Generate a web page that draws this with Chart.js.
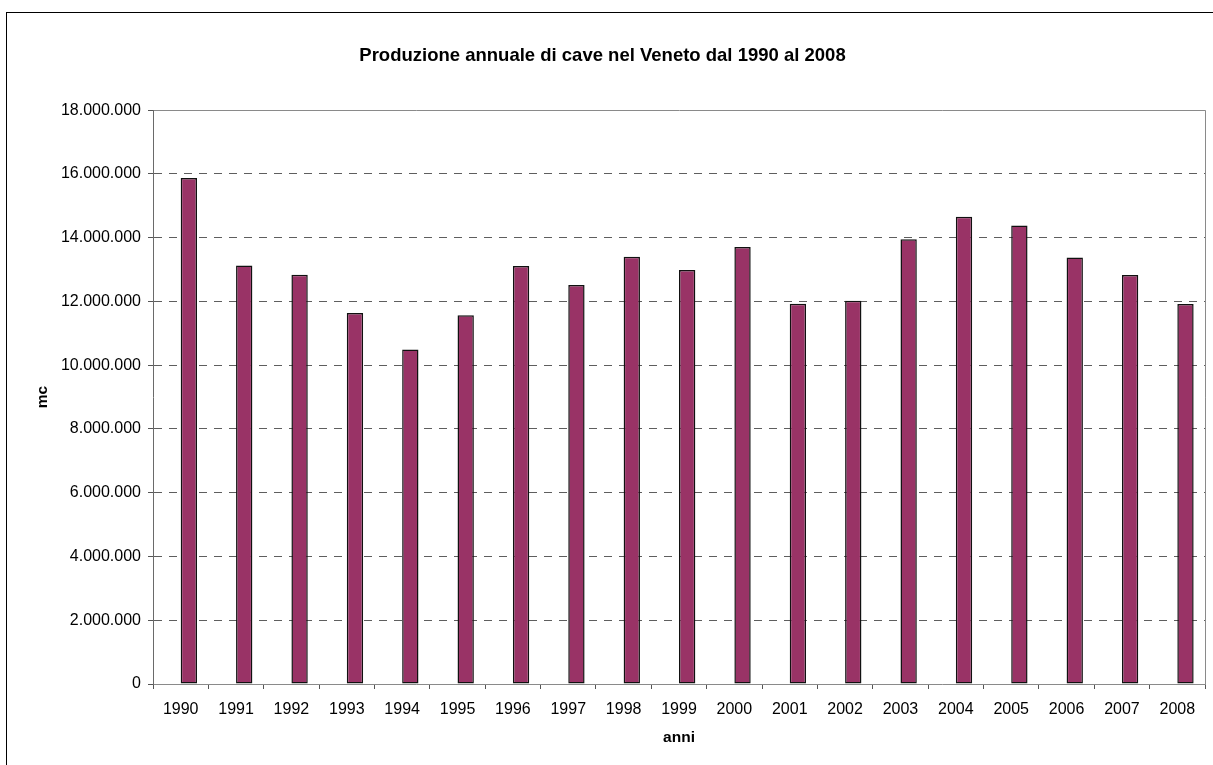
<!DOCTYPE html>
<html>
<head>
<meta charset="utf-8">
<title>Produzione annuale di cave nel Veneto</title>
<script src="https://cdn.jsdelivr.net/npm/chart.js@4/dist/chart.umd.min.js"></script>
<style>
    html, body { margin: 0; padding: 0; background: #fff; overflow: hidden; }
    #frame {
        position: absolute; left: 6px; top: 12px;
        width: 1300px; height: 800px;
        border: 1px solid #000;
    }
    #wrap { position: absolute; left: 0; top: 0; width: 1213px; height: 765px; }
</style>
</head>
<body>
<div id="frame"></div>
<div id="wrap"><canvas id="cave" width="1213" height="765"></canvas></div>
<script>
    // Anni e produzione (mc)
    const anni = ['1990', '1991', '1992', '1993', '1994', '1995', '1996', '1997', '1998', '1999',
                  '2000', '2001', '2002', '2003', '2004', '2005', '2006', '2007', '2008'];
    const produzione = [15870000, 13130000, 12840000, 11640000, 10490000, 11570000, 13110000,
                        12520000, 13400000, 12990000, 13710000, 11930000, 12020000, 13950000,
                        14660000, 14380000, 13380000, 12830000, 11920000];
    // serie vuota: in Excel le barre stanno nella seconda posizione del gruppo
    const serieVuota = anni.map(() => null);
    const yMin = 0, yMax = 18000000, yStep = 2000000;

    const FONT = "'Liberation Sans', Arial, sans-serif";

    // formato italiano con il punto come separatore delle migliaia
    function formatIt(v) {
        return String(Math.round(v)).replace(/\B(?=(\d{3})+(?!\d))/g, '.');
    }

    const ctx = document.getElementById('cave').getContext('2d');
    const chart = new Chart(ctx, {
        type: 'bar',
        data: {
            labels: anni,
            datasets: [
                { label: '', data: serieVuota },
                {
                    label: 'mc',
                    data: produzione,
                    backgroundColor: '#993366',
                    borderColor: '#111111',
                    borderWidth: 1.5,
                    borderSkipped: false
                }
            ]
        },
        options: {
            responsive: false,
            animation: false,
            layout: { padding: { left: 0, right: 8, top: 0, bottom: 0 } },
            categoryPercentage: 0.59,
            barPercentage: 1,
            plugins: {
                legend: { display: false },
                tooltip: { enabled: false },
                title: {
                    display: true,
                    text: 'Produzione annuale di cave nel Veneto dal 1990 al 2008',
                    color: '#000',
                    font: { family: FONT, size: 18.5, weight: 'bold' },
                    padding: { top: 45, bottom: 43 }
                }
            },
            scales: {
                x: {
                    afterFit: (scale) => { scale.height = 81; },
                    grid: {
                        drawOnChartArea: true,
                        color: (c) => c.tick ? 'transparent' : '#8a8a8a',
                        tickColor: '#555',
                        tickLength: 5
                    },
                    border: { color: '#8a8a8a' },
                    ticks: {
                        color: '#000',
                        font: { family: FONT, size: 16 },
                        padding: 11,
                        maxRotation: 0,
                        autoSkip: false
                    },
                    title: {
                        display: true,
                        text: 'anni',
                        color: '#000',
                        font: { family: FONT, size: 15.5, weight: 'bold' },
                        padding: { top: 0, bottom: 18 }
                    }
                },
                y: {
                    min: yMin,
                    max: yMax,
                    afterFit: (scale) => { scale.width = 153; },
                    grid: {
                        color: (c) => {
                            if (!c.tick || c.tick.value === 0) return 'transparent';
                            return c.tick.value === yMax ? '#8a8a8a' : '#5e5e5e';
                        },
                        tickColor: '#555',
                        tickLength: 5
                    },
                    border: {
                        color: '#6a6a6a',
                        dash: (c) => (c.tick && c.tick.value < yMax) ? [8, 7] : []
                    },
                    ticks: {
                        stepSize: yStep,
                        color: '#000',
                        font: { family: FONT, size: 16 },
                        padding: 7,
                        callback: (v) => formatIt(v)
                    },
                    title: {
                        display: true,
                        text: 'mc',
                        color: '#000',
                        font: { family: FONT, size: 15.5, weight: 'bold' },
                        padding: { top: 33, bottom: 0 }
                    }
                }
            }
        }
    });
</script>
</body>
</html>
